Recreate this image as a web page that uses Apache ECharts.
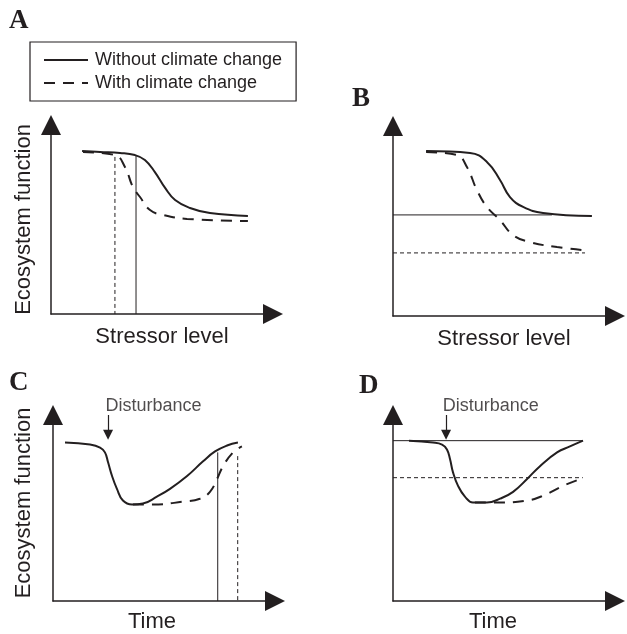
<!DOCTYPE html>
<html>
<head>
<meta charset="utf-8">
<script src="https://cdn.jsdelivr.net/npm/echarts@6/dist/echarts.min.js"></script>
<style>
html,body{margin:0;padding:0;background:#fff;}
#main{width:627px;height:634px;}
</style>
</head>
<body>
<div id="main"></div>
<script>
// ---- data (conceptual units: 0..100 on each axis) ----
const panelLetters = ['A', 'B', 'C', 'D'];
const xAxisNames = ['Stressor level', 'Stressor level', 'Time', 'Time'];
const yAxisNames = ['Ecosystem function', '', 'Ecosystem function', ''];
const legendNames = ['Without climate change', 'With climate change'];
const disturbanceText = 'Disturbance';

// Panel A
const aWithout = [[14.0,86.2],[22.1,85.7],[31.1,85.2],[37.8,84.1],[42.3,81.5],[46.8,75.1],[51.4,66.7],[55.9,60.3],[62.6,56.1],[71.6,53.4],[88.7,51.9]];
const aWith = [[14.4,85.7],[28.8,84.1],[33.3,77.8],[36.9,67.2],[40.1,61.9],[44.6,55.0],[50.5,52.4],[61.3,50.3],[88.7,49.2]];
const aThresholdWithout = [[38.3,84.0],[38.3,0]];
const aThresholdWith = [[28.8,83.1],[28.8,0]];

// Panel B
const bWithout = [[14.9,86.8],[34.7,85.8],[42.3,81.1],[48.2,71.6],[52.7,62.6],[58.6,57.4],[67.6,54.2],[89.6,52.6]];
const bWith = [[14.9,86.3],[28.8,84.7],[33.3,78.4],[37.8,66.3],[42.3,57.4],[48.2,50.5],[54.1,42.6],[61.7,38.9],[73.9,36.3],[85.6,34.7]];
const bLevelWithout = [[0,53.2],[71.6,53.2]];
const bLevelWith = [[0,33.2],[86.5,33.2]];

// Panel C
const cWithout = [[5.4,85.2],[16.7,84.1],[21.2,82.5],[23.4,79.9],[24.8,74.6],[26.6,67.2],[28.8,60.3],[31.5,54.0],[35.6,51.9],[40.5,52.4],[46.8,56.1],[52.7,60.3],[60.4,67.2],[67.6,75.1],[73.0,80.4],[78.4,83.6],[83.3,85.2]];
const cWith = [[36.0,51.9],[45.0,51.9],[58.6,53.4],[66.2,55.0],[70.7,58.7],[73.9,65.6],[76.6,72.5],[81.1,79.9],[85.1,83.1]];
const cRecoveryWithout = [[74.2,79.9],[74.2,0]];
const cRecoveryWith = [[83.2,77.9],[83.2,0]];
const cDisturbArrow = [[24.8,100],[24.8,89.4]];
const cDisturbLabel = [[23.6,104.9]];

// Panel D
const dWithout = [[7.2,86.2],[18.0,85.2],[22.1,84.1],[24.3,81.5],[25.7,76.2],[27.0,69.3],[29.3,61.9],[32.4,56.1],[36.0,52.9],[42.3,52.9],[48.2,55.0],[54.1,58.7],[60.4,65.6],[66.2,72.5],[73.9,79.9],[79.7,83.1],[85.6,86.2]];
const dWith = [[36.9,52.9],[46.8,52.9],[60.4,54.0],[67.6,56.6],[76.6,61.9],[85.6,66.1]];
const dLevelWithout = [[0,86.2],[85.5,86.2]];
const dLevelWith = [[0,66.3],[85.5,66.3]];
const dDisturbArrow = [[23.9,100],[23.9,89.4]];
const dDisturbLabel = [[22.4,104.9]];

// ---- styling ----
const INK = '#231f20';
const SANS = '"Liberation Sans", Arial, Helvetica, sans-serif';
const SERIF = '"Liberation Serif", "Times New Roman", serif';

const grids = [
  {left: 51, top: 125, width: 222, height: 189},
  {left: 393, top: 126, width: 222, height: 190},
  {left: 53, top: 415, width: 222, height: 189},
  {left: 393, top: 415, width: 222, height: 189}
];
const titlePos = [
  {left: 9, top: 8}, {left: 352, top: 86}, {left: 9, top: 370}, {left: 359, top: 373}
];
const xNameGap = [12, 12, 10, 10];
const xNamePad = [[0,0,0,0], [0,0,0,0], [0,24,0,0], [0,22,0,0]];
const yNameGap = [16, 16, 18, 18];
const yNamePad = [[0,0,0,0], [0,0,0,0], [0,0,0,10], [0,0,0,0]];

function axisCommon(i) {
  return {
    type: 'value', min: 0, max: 100, gridIndex: i,
    axisTick: {show: false}, axisLabel: {show: false}, splitLine: {show: false},
    axisLine: {show: true, onZero: false, symbol: ['none', 'triangle'], symbolSize: [20, 20],
      lineStyle: {color: INK, width: 1.5}},
    nameLocation: 'middle'
  };
}
function nameStyle(pad) {
  return {fontFamily: SANS, fontSize: 22, color: INK, padding: pad};
}

const xAxes = grids.map((g, i) => Object.assign(axisCommon(i), {name: xAxisNames[i], nameGap: xNameGap[i], nameTextStyle: nameStyle(xNamePad[i])}));
const yAxes = grids.map((g, i) => Object.assign(axisCommon(i), {name: yAxisNames[i], nameGap: yNameGap[i], nameRotate: 90, nameTextStyle: nameStyle(yNamePad[i])}));

function curve(name, data, i, dashed) {
  return {
    type: 'line', name: name, data: data, xAxisIndex: i, yAxisIndex: i,
    smooth: 0.45, symbol: 'none', clip: false, silent: true,
    lineStyle: {color: INK, width: 2, type: dashed ? [11, 8] : 'solid'},
    itemStyle: {color: INK}
  };
}
function ref(id, data, i, dashed) {
  return {
    type: 'line', name: id, data: data, xAxisIndex: i, yAxisIndex: i,
    symbol: 'none', clip: false, silent: true,
    lineStyle: {color: INK, width: 1, type: dashed ? [4, 3] : 'solid'}
  };
}
function arrow(data, i) {
  return {
    type: 'lines', coordinateSystem: 'cartesian2d', xAxisIndex: i, yAxisIndex: i,
    silent: true, symbol: ['none', 'triangle'], symbolSize: [9, 10],
    lineStyle: {color: INK, width: 1.2, opacity: 1},
    itemStyle: {color: INK},
    data: [{coords: data}]
  };
}
function label(data, i) {
  return {
    type: 'scatter', xAxisIndex: i, yAxisIndex: i, data: data, symbolSize: 0, clip: false, silent: true,
    label: {show: true, position: 'right', distance: 0, formatter: disturbanceText,
      fontFamily: SANS, fontSize: 18, color: INK}
  };
}

const series = [
  curve(legendNames[0], aWithout, 0, false),
  curve(legendNames[1], aWith, 0, true),
  ref('a-thr-without', aThresholdWithout, 0, false),
  ref('a-thr-with', aThresholdWith, 0, true),
  curve(legendNames[0], bWithout, 1, false),
  curve(legendNames[1], bWith, 1, true),
  ref('b-lvl-without', bLevelWithout, 1, false),
  ref('b-lvl-with', bLevelWith, 1, true),
  curve(legendNames[0], cWithout, 2, false),
  curve(legendNames[1], cWith, 2, true),
  ref('c-rec-without', cRecoveryWithout, 2, false),
  ref('c-rec-with', cRecoveryWith, 2, true),
  arrow(cDisturbArrow, 2),
  label(cDisturbLabel, 2),
  curve(legendNames[0], dWithout, 3, false),
  curve(legendNames[1], dWith, 3, true),
  ref('d-lvl-without', dLevelWithout, 3, false),
  ref('d-lvl-with', dLevelWith, 3, true),
  arrow(dDisturbArrow, 3),
  label(dDisturbLabel, 3)
];

const chart = echarts.init(document.getElementById('main'), null, {renderer: 'canvas'});
chart.setOption({
  animation: false,
  backgroundColor: '#ffffff',
  title: panelLetters.map((t, i) => ({
    text: t, left: titlePos[i].left, top: titlePos[i].top, padding: 0,
    textStyle: {fontFamily: SERIF, fontWeight: 'bold', fontSize: 27, color: INK}
  })),
  legend: {
    data: legendNames, orient: 'vertical', left: 30, top: 42,
    padding: [9, 14, 9, 13], itemGap: 5, itemWidth: 44, itemHeight: 12,
    borderColor: INK, borderWidth: 1.2, selectedMode: false,
    itemStyle: {opacity: 0},
    textStyle: {fontFamily: SANS, fontSize: 18, color: INK, padding: [0, 0, 0, 2]}
  },
  grid: grids,
  xAxis: xAxes,
  yAxis: yAxes,
  series: series
});
</script>
</body>
</html>
